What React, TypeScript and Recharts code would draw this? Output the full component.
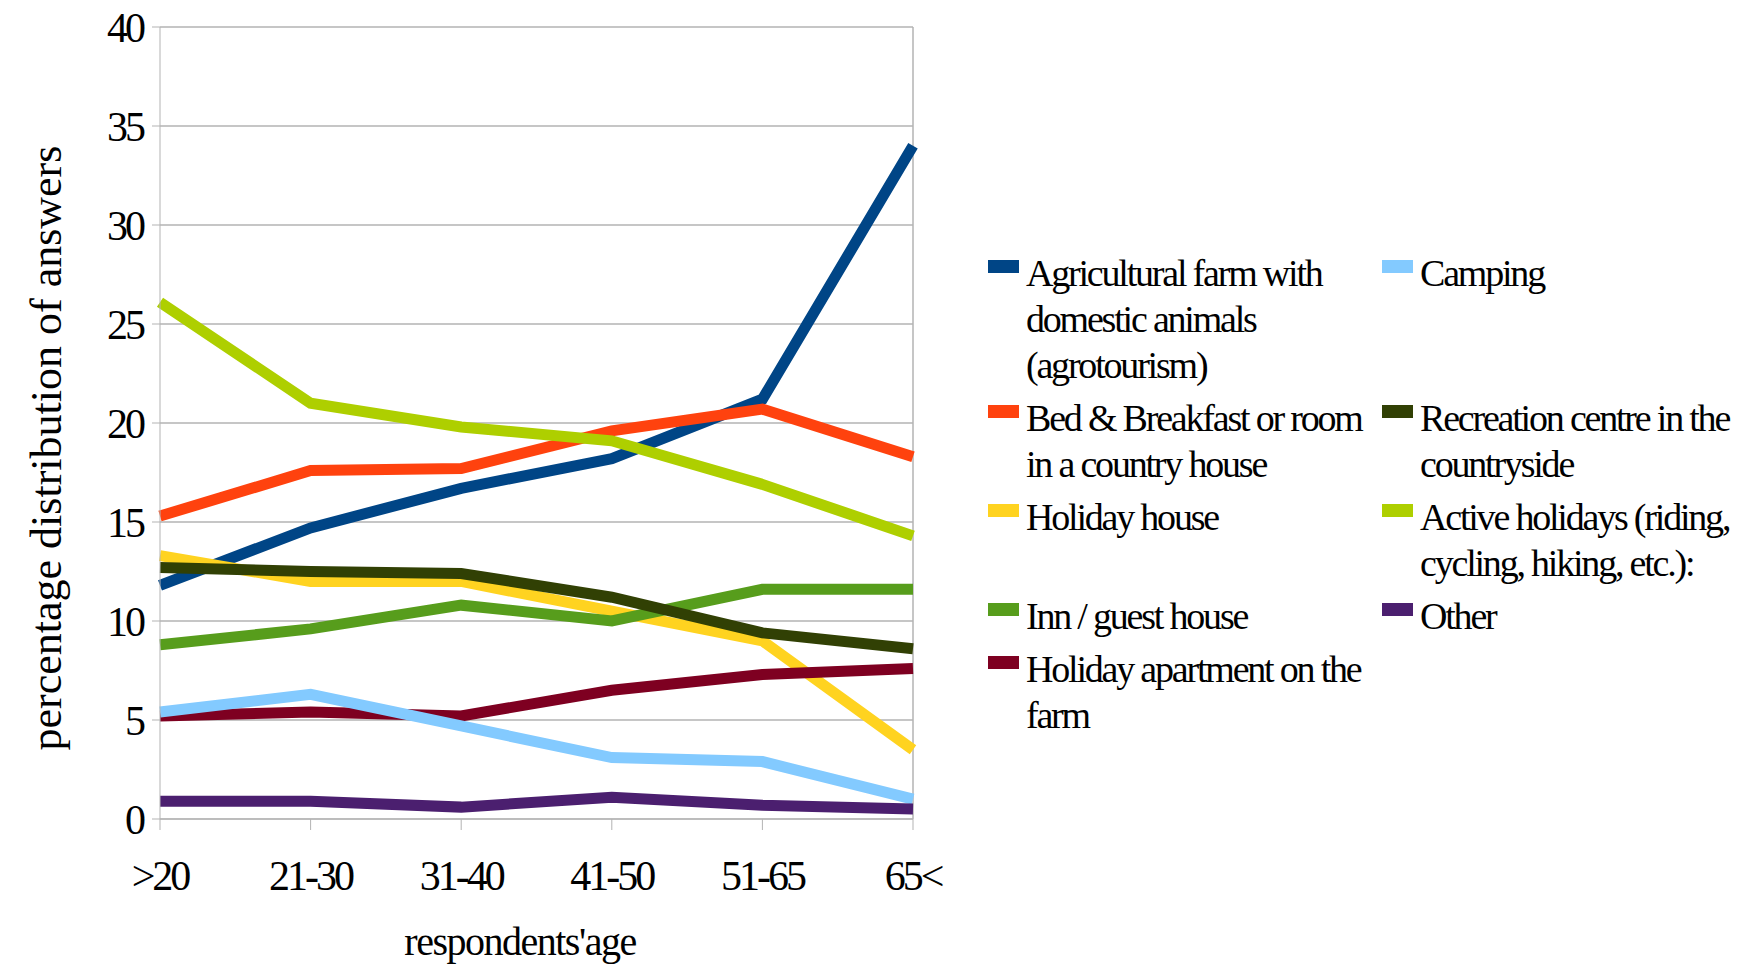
import { LineChart, Line, XAxis, YAxis, CartesianGrid, Legend, Label, ReferenceLine } from 'recharts'

// age groups on the x axis
const ageGroups = ['>20', '21-30', '31-40', '41-50', '51-65', '65<']

// percentage of answers per accommodation type
const agricultural = [11.8, 14.7, 16.7, 18.2, 21.2, 34.0]
const bedBreakfast = [15.3, 17.6, 17.7, 19.6, 20.7, 18.3]
const holidayHouse = [13.3, 12.0, 12.0, 10.5, 9.0, 3.5]
const innGuestHouse = [8.8, 9.6, 10.8, 10.0, 11.6, 11.6]
const holidayApartment = [5.2, 5.4, 5.2, 6.5, 7.3, 7.6]
const camping = [5.4, 6.3, 4.7, 3.1, 2.9, 1.0]
const recreationCentre = [12.7, 12.5, 12.4, 11.2, 9.4, 8.6]
const activeHolidays = [26.1, 21.0, 19.8, 19.1, 16.9, 14.3]
const other = [0.9, 0.9, 0.6, 1.1, 0.7, 0.5]

const yTicks = [0, 5, 10, 15, 20, 25, 30, 35, 40]

const series = [
  { key: 'agricultural', name: 'Agricultural farm with domestic animals (agrotourism)', color: '#004586', values: agricultural },
  { key: 'bedBreakfast', name: 'Bed & Breakfast or room in a country house', color: '#ff420e', values: bedBreakfast },
  { key: 'holidayHouse', name: 'Holiday house', color: '#ffd320', values: holidayHouse },
  { key: 'innGuestHouse', name: 'Inn / guest house', color: '#579d1c', values: innGuestHouse },
  { key: 'holidayApartment', name: 'Holiday apartment on the farm', color: '#7e0021', values: holidayApartment },
  { key: 'camping', name: 'Camping', color: '#83caff', values: camping },
  { key: 'recreationCentre', name: 'Recreation centre in the countryside', color: '#314004', values: recreationCentre },
  { key: 'activeHolidays', name: 'Active holidays (riding, cycling, hiking, etc.):', color: '#aecf00', values: activeHolidays },
  { key: 'other', name: 'Other', color: '#4b1f6f', values: other },
]

const data = ageGroups.map((age, i) => {
  const row: Record<string, string | number> = { age }
  series.forEach((s) => {
    row[s.key] = s.values[i]
  })
  return row
})

const FONT = '"Liberation Serif", "Times New Roman", serif'
const GRID = '#b3b3b3'

const tickStyle = { fontFamily: FONT, fontSize: 42, letterSpacing: -3, fill: '#000' }

// two columns, filled top to bottom, rows aligned across columns
function LegendBlock({ payload }: any) {
  const items = series.map((s) => {
    const p = (payload || []).find((e: any) => e.dataKey === s.key)
    return { key: s.key, label: s.name, color: p ? p.color : s.color }
  })
  return (
    <div
      style={{
        display: 'grid',
        gridTemplateColumns: '394px 360px',
        gridTemplateRows: 'repeat(5, auto)',
        gridAutoFlow: 'column',
        rowGap: 7,
        fontFamily: FONT,
        fontSize: 38,
        lineHeight: '46px',
        letterSpacing: -2.2,
        color: '#000',
        textAlign: 'left',
      }}
    >
      {items.map((it) => (
        <div key={it.key} style={{ display: 'flex', alignItems: 'flex-start' }}>
          <span style={{ flex: 'none', width: 31, height: 13, marginTop: 10, marginRight: 7, background: it.color }} />
          <span style={{ width: 350 }}>{it.label}</span>
        </div>
      ))}
    </div>
  )
}

export default function App() {
  return (
    <div style={{ position: 'absolute', left: 0, top: 0, width: 1752, height: 968, background: '#fff' }}>
      <LineChart width={1752} height={968} data={data} margin={{ top: 27, right: 839, bottom: 0, left: 0 }}>
        <CartesianGrid vertical={false} stroke={GRID} strokeWidth={1.5} />
        <XAxis
          dataKey="age"
          scale="point"
          padding={{ left: 0, right: 0 }}
          height={149}
          tickSize={11}
          tickMargin={30}
          stroke={GRID}
          tick={tickStyle}
          interval={0}
        >
          <Label
            content={() => (
              <text x={520} y={955} textAnchor="middle" fontFamily={FONT} fontSize={40} letterSpacing={-1.5} fill="#000">
                respondents'age
              </text>
            )}
          />
        </XAxis>
        <YAxis
          width={160}
          domain={[0, 40]}
          ticks={yTicks}
          tickSize={8}
          tickMargin={9}
          stroke={GRID}
          tick={tickStyle}
        >
          <Label
            content={() => (
              <text
                x={46}
                y={448}
                transform="rotate(-90 46 448)"
                textAnchor="middle"
                dominantBaseline="central"
                fontFamily={FONT}
                fontSize={44}
                fill="#000"
              >
                percentage distribution of answers
              </text>
            )}
          />
        </YAxis>
        <ReferenceLine x="65<" stroke={GRID} strokeWidth={1.5} />
        {series.map((s) => (
          <Line
            key={s.key}
            type="linear"
            dataKey={s.key}
            name={s.name}
            stroke={s.color}
            strokeWidth={11}
            dot={false}
            activeDot={false}
            isAnimationActive={false}
          />
        ))}
        <Legend
          layout="vertical"
          align="center"
          verticalAlign="middle"
          wrapperStyle={{ left: 988, top: 250, width: 760 }}
          content={<LegendBlock />}
        />
      </LineChart>
    </div>
  )
}
